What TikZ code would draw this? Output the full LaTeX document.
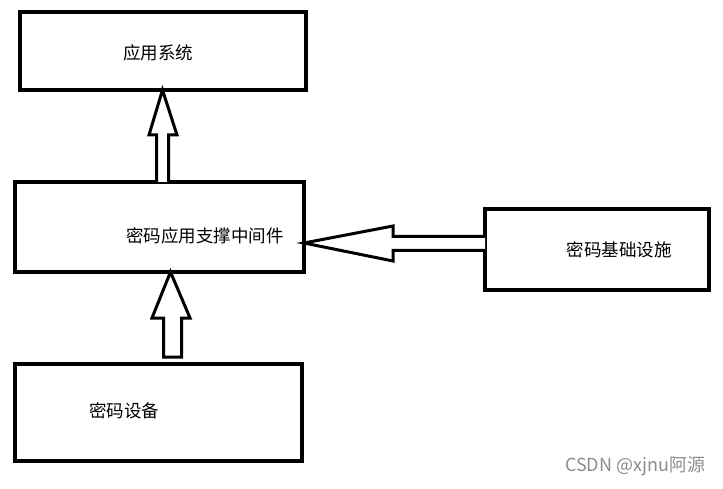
\documentclass[tikz,border=0pt]{standalone}
\usepackage{fontspec}
\newfontfamily\cjk{Noto Sans CJK SC}
\usetikzlibrary{calc}
\begin{document}
\begin{tikzpicture}[x=1pt,y=-1pt,
  box/.style={draw=black,line width=4pt,minimum width=#1,inner sep=0pt,outer sep=0pt},
  lbl/.style={font=\cjk\fontsize{17.5}{20}\selectfont,inner sep=0pt},
  blockarrow/.style={draw=black,line width=3pt,fill=white,line join=miter}]
\useasboundingbox (0,0) rectangle (723,489);
% boxes
\node[box=286pt,minimum height=78pt] (app) at (163,51) {};
\node[box=289pt,minimum height=90pt] (mid) at (159.5,227) {};
\node[box=287pt,minimum height=97pt] (dev) at (158.5,412.5) {};
\node[box=224pt,minimum height=81pt] (infra) at (597,249.5) {};
% labels
\node[lbl] (tapp) at (158,53) {应用系统};
\node[lbl] (tmid) at (205,236) {密码应用支撑中间件};
\node[lbl] (tdev) at (124,411) {密码设备};
\node[lbl] (tinfra) at (619,250) {密码基础设施};
% arrow middleware -> application
\draw[blockarrow] (156.5,0 |- mid.north) -- (156.5,135) -- (149,135) -- (162.5,0 |- app.south) -- (177,135) -- (168.5,135) -- (168.5,0 |- mid.north);
% arrow device -> middleware
\draw[blockarrow] (163.5,357) -- (163.5,318) -- (152,318) -- (170.5,0 |- mid.south) -- (190,318) -- (181.5,318) -- (181.5,357) -- cycle;
% arrow infrastructure -> middleware
\draw[blockarrow] (infra.west |- 0,236.5) -- (393,236.5) -- (393,226) -- (mid.east |- 0,243) -- (393,261) -- (393,250.5) -- (infra.west |- 0,250.5);
% watermark
\node[font=\cjk\fontsize{18}{20}\selectfont,text=black!45,inner sep=0pt] (wm) at (635,466) {CSDN @xjnu阿源};
\end{tikzpicture}
\end{document}
